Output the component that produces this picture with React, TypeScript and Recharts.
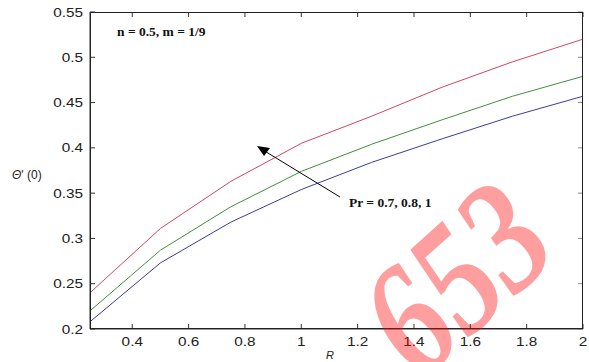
import React from 'react'
import { LineChart, Line, XAxis, YAxis } from 'recharts'

// R values and theta'(0) for Pr = 1, 0.8, 0.7
const rValues = [0.25, 0.5, 0.75, 1, 1.25, 1.5, 1.75, 2]
const prOne = [0.240, 0.311, 0.363, 0.405, 0.435, 0.467, 0.495, 0.520]
const prEight = [0.220, 0.287, 0.335, 0.374, 0.404, 0.431, 0.457, 0.479]
const prSeven = [0.208, 0.273, 0.318, 0.354, 0.384, 0.410, 0.435, 0.457]

const xTicks = [0.4, 0.6, 0.8, 1, 1.2, 1.4, 1.6, 1.8, 2]
const yTicks = [0.2, 0.25, 0.3, 0.35, 0.4, 0.45, 0.5, 0.55]

const data = rValues.map((r, i) => ({
    r,
    a: prOne[i],
    b: prEight[i],
    c: prSeven[i]
}))

const W = 589
const H = 362
const MARGIN = { top: 12, right: 6, left: 0, bottom: 0 }
const Y_AXIS_W = 90
const X_AXIS_H = 33
const LABEL_GAP_X = 8
const LABEL_GAP_Y = 7
const TICK_LEN = 5
const TICK_FONT = '"Liberation Sans", Arial, sans-serif'
const SERIF = '"Liberation Serif", "Times New Roman", serif'
const INK = '#333'

// plot box, same as what recharts lays out from the margins above
const PLOT_LEFT = MARGIN.left + Y_AXIS_W
const PLOT_TOP = MARGIN.top
const PLOT_RIGHT = W - MARGIN.right
const PLOT_BOTTOM = H - MARGIN.bottom - X_AXIS_H

// matlab style: ticks point inward on all four sides, labels look a bit stretched
const XTick = ({ x, y, payload }: any) => {
    const axisY = y - LABEL_GAP_X
    return (
        <g>
            <path d={`M${x},${axisY}V${axisY - TICK_LEN}`} stroke={INK} strokeWidth={1} />
            <path d={`M${x},${PLOT_TOP}V${PLOT_TOP + TICK_LEN}`} stroke={INK} strokeWidth={1} />
            <g transform={`translate(${x},${y}) scale(1.18,1)`}>
                <text textAnchor="middle" dy="0.71em" fontSize={13} fontFamily={TICK_FONT} fill="#222">
                    {payload.value}
                </text>
            </g>
        </g>
    )
}

const YTick = ({ x, y, payload }: any) => {
    const axisX = x + LABEL_GAP_Y
    return (
        <g>
            <path d={`M${axisX},${y}H${axisX + TICK_LEN}`} stroke={INK} strokeWidth={1} />
            <path d={`M${PLOT_RIGHT},${y}H${PLOT_RIGHT - TICK_LEN}`} stroke="#888" strokeWidth={1} />
            <g transform={`translate(${x},${y}) scale(1.18,1)`}>
                <text textAnchor="end" dy="0.355em" fontSize={13} fontFamily={TICK_FONT} fill="#222">
                    {payload.value}
                </text>
            </g>
        </g>
    )
}

export default function App() {
    return (
        <div style={{ position: 'absolute', left: 0, top: 0, width: W, height: H, background: '#fff' }}>
            <LineChart width={W} height={H} data={data} margin={MARGIN}>
                <XAxis
                    dataKey="r"
                    type="number"
                    domain={[0.25, 2]}
                    ticks={xTicks}
                    allowDataOverflow
                    height={X_AXIS_H}
                    tickSize={0}
                    tickMargin={LABEL_GAP_X}
                    tickLine={false}
                    stroke={INK}
                    tick={<XTick />}
                />
                <YAxis
                    type="number"
                    domain={[0.2, 0.55]}
                    ticks={yTicks}
                    allowDataOverflow
                    width={Y_AXIS_W}
                    tickSize={0}
                    tickMargin={LABEL_GAP_Y}
                    tickLine={false}
                    stroke={INK}
                    tick={<YTick />}
                />
                <Line type="linear" dataKey="a" stroke="#d2485a" strokeWidth={1} dot={false} isAnimationActive={false} />
                <Line type="linear" dataKey="b" stroke="#3f8f3f" strokeWidth={1} dot={false} isAnimationActive={false} />
                <Line type="linear" dataKey="c" stroke="#3b3ba0" strokeWidth={1} dot={false} isAnimationActive={false} />
            </LineChart>

            {/* box frame, annotations, axis titles and the watermark */}
            <svg width={W} height={H} style={{ position: 'absolute', left: 0, top: 0, pointerEvents: 'none' }}>
                <rect
                    x={PLOT_LEFT + 0.5}
                    y={PLOT_TOP + 0.5}
                    width={PLOT_RIGHT - PLOT_LEFT - 1}
                    height={PLOT_BOTTOM - PLOT_TOP - 1}
                    fill="none"
                    stroke="#222"
                    strokeWidth={1}
                />
                <text x={117} y={36} fontSize={13.5} fontWeight="bold" fontFamily={SERIF} fill="#111">
                    n = 0.5, m = 1/9
                </text>
                <text x={349} y={207} fontSize={13.5} fontWeight="bold" fontFamily={SERIF} fill="#111">
                    Pr = 0.7, 0.8, 1
                </text>
                <line x1={340} y1={197} x2={263} y2={150} stroke="#000" strokeWidth={1} />
                <polygon points="257,146 270,148 264,156" fill="#000" />
                <text x={12} y={179} fontSize={12} fontFamily={TICK_FONT} fill="#222">
                    <tspan fontStyle="italic">Θ</tspan>' (0)
                </text>
                <text x={330} y={359} textAnchor="middle" fontSize={11} fontStyle="italic" fontFamily={TICK_FONT} fill="#222">
                    R
                </text>
                <text
                    x={0}
                    y={0}
                    transform="translate(420,382) rotate(-42) scale(1,1.25)"
                    fontSize={128}
                    fontWeight="bold"
                    fontStyle="italic"
                    fontFamily={SERIF}
                    fill="#ff0000"
                    fillOpacity={0.38}
                >
                    653
                </text>
            </svg>
        </div>
    )
}
